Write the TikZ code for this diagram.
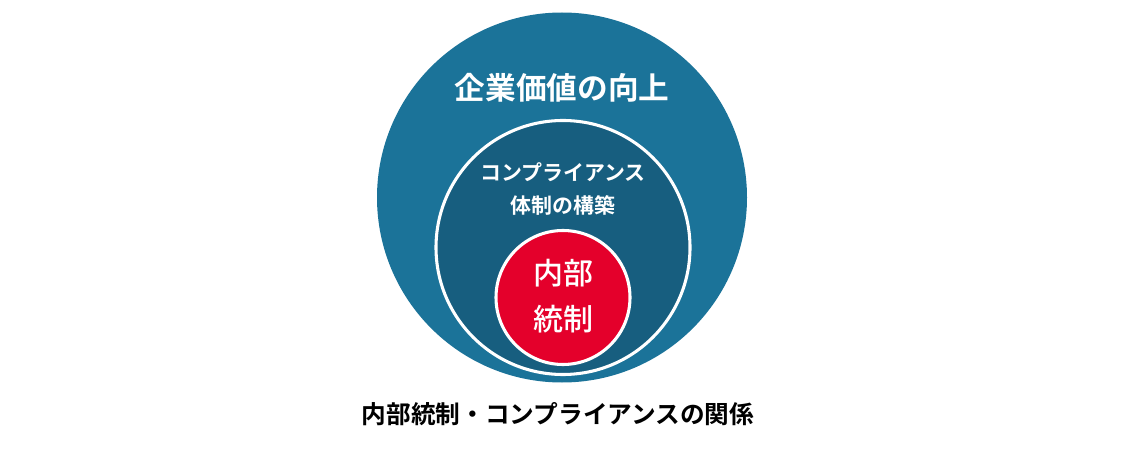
\documentclass[tikz,border=0pt]{standalone}
\usepackage{fontspec}
\newfontfamily\jp{Noto Sans CJK JP}[BoldFont={Noto Sans CJK JP Bold}]
\newfontfamily\jpmed{Noto Sans CJK JP Medium}
\definecolor{outerblue}{RGB}{27,115,153}
\definecolor{innerblue}{RGB}{23,94,127}
\definecolor{redcore}{RGB}{228,0,43}
\tikzset{ring/.style={draw=white, line width=2.3pt}}

\begin{document}
\begin{tikzpicture}[x=0.75pt, y=-0.75pt]
\useasboundingbox (0,0) rectangle (1125,456);
\fill[outerblue] (562,197.5) circle (185);
\fill[innerblue, ring] (563,247.5) circle (127);
\fill[redcore, ring] (563,297.5) circle (67);
\node[text=white, font=\jp\bfseries\fontsize{23}{26}\selectfont] (value) at (562,88) {企業価値の向上};
\node[text=white, font=\jp\bfseries\fontsize{15.7}{24.5}\selectfont, align=center] (comp) at (563,189) {コンプライアンス\\体制の構築};
\node[text=white, font=\jpmed\fontsize{22.5}{34.5}\selectfont, align=center] (ic) at (563,296) {内部\\統制};
\node[text=black, font=\jp\bfseries\fontsize{18.5}{22}\selectfont] (caption) at (558,414) {内部統制・コンプライアンスの関係};
\end{tikzpicture}
\end{document}
